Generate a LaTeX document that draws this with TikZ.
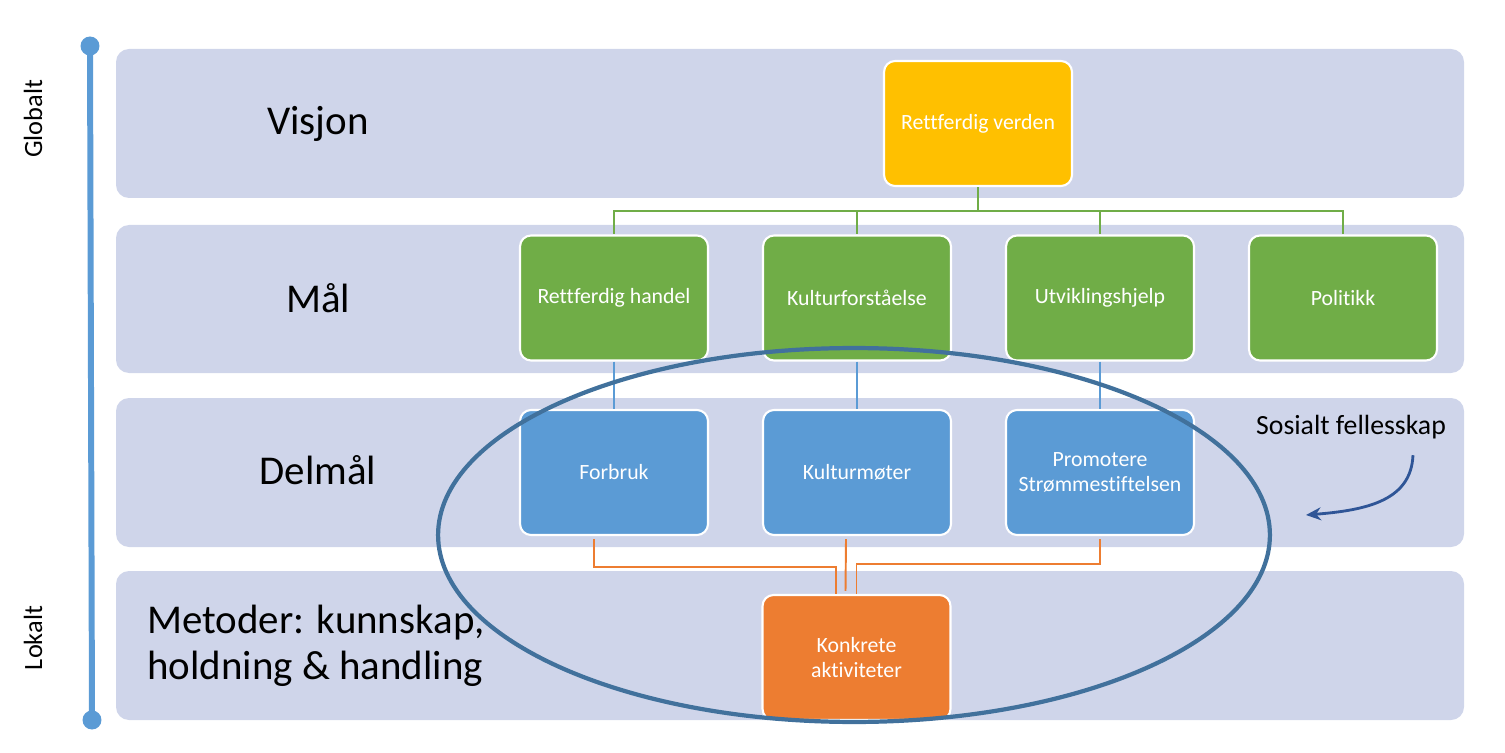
\documentclass[tikz,border=0pt]{standalone}
\usepackage{fontspec}
\setmainfont[Ligatures=NoCommon]{Carlito}
\usetikzlibrary{arrows.meta}
\definecolor{bandc}{HTML}{CFD5EA}
\definecolor{yel}{HTML}{FFC000}
\definecolor{grn}{HTML}{70AD47}
\definecolor{blu}{HTML}{5B9BD5}
\definecolor{org}{HTML}{ED7D31}
\definecolor{ellc}{HTML}{41719C}
\definecolor{arrc}{HTML}{2F5597}
\tikzset{
  band/.style={fill=bandc, rounded corners=0.26cm},
  box/.style={draw=white, line width=1.2pt, rounded corners=0.22cm, minimum width=3.76cm, minimum height=2.5cm, inner sep=0pt, text=white, align=center, font=\fontsize{12.4}{14}\selectfont},
  lvl/.style={font=\fontsize{23.3}{26}\selectfont, inner sep=0pt},
  side/.style={font=\fontsize{15}{18}\selectfont, rotate=90, inner sep=0pt},
  gline/.style={draw=grn, line width=1.1pt},
  bline/.style={draw=blu, line width=0.8pt},
  oline/.style={draw=org, line width=1.1pt},
}
\begin{document}
\begin{tikzpicture}[x=0.02cm, y=-0.02cm]
\useasboundingbox (0,0) rectangle (1505,753);
% bands
\fill[band] (116,49) rectangle (1464,198);
\fill[band] (116,225) rectangle (1464,373);
\fill[band] (116,398) rectangle (1464,547);
\fill[band] (116,571) rectangle (1464,720);
% axis
\coordinate (atop) at (90,46);
\coordinate (abot) at (92,720);
\draw[blu, line width=3.4pt] (atop) -- (abot);
\fill[blu] (atop) circle [radius=0.19cm];
\fill[blu] (abot) circle [radius=0.19cm];
\node[side] (glob) at (33,119) {Globalt};
\node[side] (lok) at (33,638) {Lokalt};
% level labels
\node[lvl] (visjon) at (318,124) {Visjon};
\node[lvl] (maal) at (318,298) {Mål};
\node[lvl] (delmaal) at (318,470) {Delmål};
\node[lvl, anchor=west, align=left] (metoder) at (147,646) {Metoder: kunnskap,\\holdning \& handling};
% boxes
\node[box, fill=yel] (rv) at (978,123.5) {Rettferdig verden};
\node[box, fill=grn] (g1) at (614,298) {Rettferdig handel};
\node[box, fill=grn] (g2) at (857,298) {Kulturforståelse};
\node[box, fill=grn] (g3) at (1100,298) {Utviklingshjelp};
\node[box, fill=grn] (g4) at (1343,298) {Politikk};
\node[box, fill=blu] (d1) at (614,472.5) {Forbruk};
\node[box, fill=blu] (d2) at (857,472.5) {Kulturmøter};
\node[box, fill=blu] (d3) at (1100,472.5) {Promotere\\Strømmestiftelsen};
\node[box, fill=org] (k) at (856.5,657.5) {Konkrete\\aktiviteter};
% green connectors
\coordinate (gbus) at (978,211);
\draw[gline] (rv.south) -- (gbus);
\draw[gline] (gbus) -| (g1.north);
\draw[gline] (gbus) -| (g2.north);
\draw[gline] (gbus) -| (g3.north);
\draw[gline] (gbus) -| (g4.north);
% blue connectors
\draw[bline] (g1.south) -- (d1.north);
\draw[bline] (g2.south) -- (d2.north);
\draw[bline] (g3.south) -- (d3.north);
% orange connectors
\draw[oline] ([xshift=-0.4cm, yshift=-0.06cm]d1.south) |- ([xshift=-0.41cm, yshift=0.54cm]k.north) -- ([xshift=-0.41cm]k.north);
\draw[oline] ([xshift=-0.22cm, yshift=-0.06cm]d2.south) -- ([xshift=-0.22cm, yshift=0.06cm]k.north);
\draw[oline] ([yshift=-0.06cm]d3.south) |- ([yshift=0.6cm]k.north) -- (k.north);
% ellipse
\draw[ellc, line width=2.4pt] (854,535) ellipse [x radius=8.32cm, y radius=3.74cm];
% social label and arrow
\node[font=\fontsize{15.8}{18}\selectfont, inner sep=0pt] (soc) at (1351,427) {Sosialt fellesskap};
\coordinate (arrend) at (1306,515);
\draw[arrc, line width=1.6pt, -{Stealth[length=0.3cm, width=0.26cm]}] ([xshift=1.24cm, yshift=-0.32cm]soc.south) .. controls ([xshift=1.2cm, yshift=-1.2cm]soc.south) and (1370,510) .. (arrend);
\end{tikzpicture}
\end{document}
